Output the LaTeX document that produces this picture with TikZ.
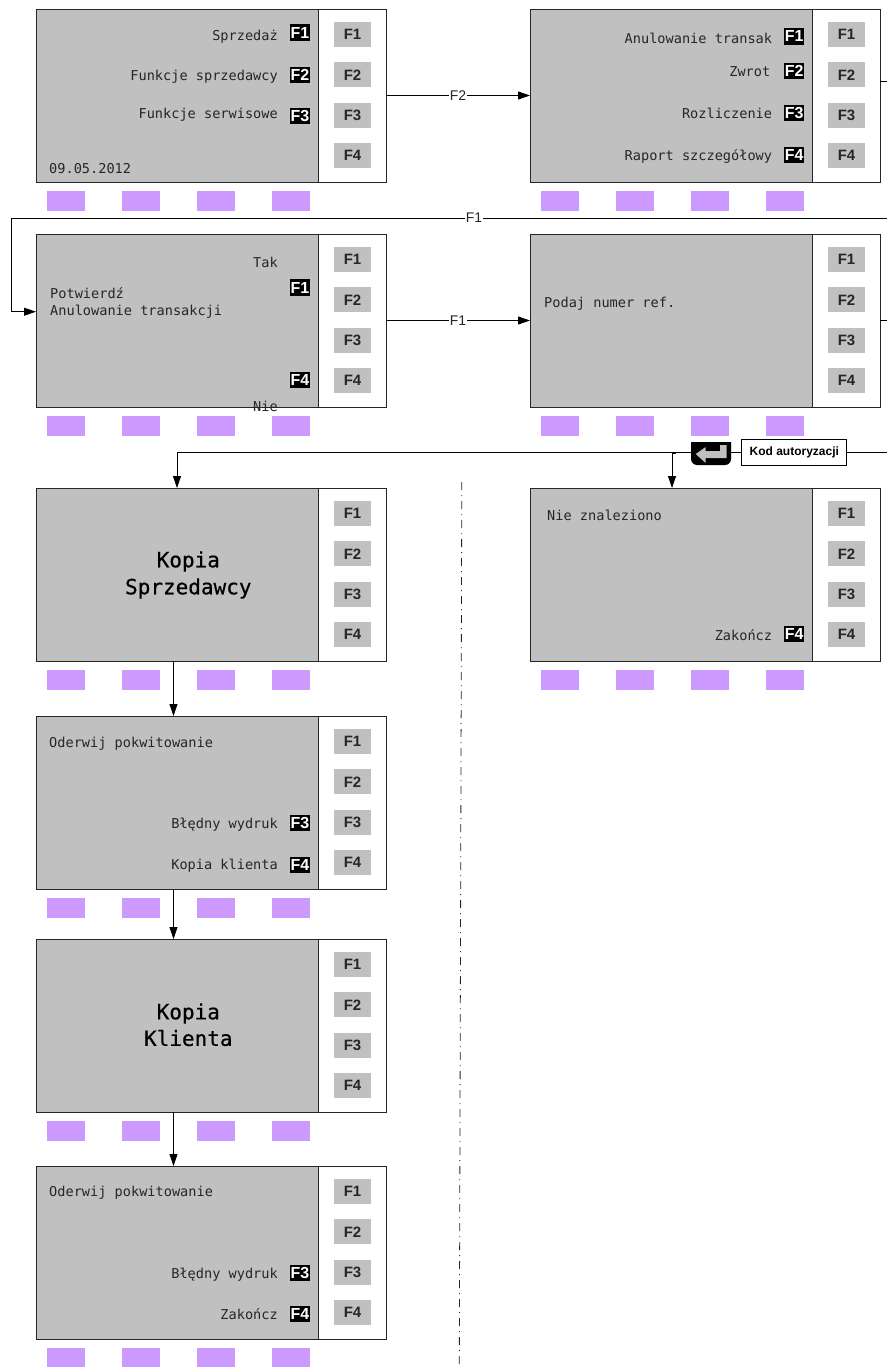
\documentclass[tikz,border=0pt]{standalone}
\usepackage{fontspec}
\setmainfont{Liberation Sans}
\newfontfamily\lcdfont{DejaVu Sans Mono}
\newfontfamily\lcdbig[FakeBold=0.5]{DejaVu Sans Mono}
\usetikzlibrary{arrows.meta}
\definecolor{lcdgray}{HTML}{C0C0C0}
\definecolor{softkey}{HTML}{CC99FF}
\tikzset{
  wire/.style={draw=black,line width=0.8pt},
  arrowwire/.style={wire,-{Triangle[length=12pt,width=8pt]}},
  panel/.style={draw=black!85,line width=0.8pt,fill=white,minimum width=350pt,minimum height=173pt,inner sep=0,outer sep=0},
  lcd/.style={draw=black!85,line width=0.8pt,fill=lcdgray,minimum width=282.5pt,minimum height=173pt,inner sep=0,outer sep=0},
  fbtn/.style={fill=lcdgray,minimum width=37pt,minimum height=25pt,inner sep=0,font=\fontsize{15}{16}\selectfont\bfseries,text=black!85},
  purple/.style={fill=softkey,minimum width=38.5pt,minimum height=19.7pt,inner sep=0},
  keycap/.style={fill=black,minimum width=20pt,minimum height=16.5pt,inner sep=0,text=white,font=\fontsize{16}{17}\selectfont\bfseries},
  lcdtext/.style={inner sep=0,text height=12pt,text depth=1pt,font=\lcdfont\fontsize{13.6}{16}\selectfont,text=black!85},
  bigtext/.style={inner sep=0,align=center,font=\lcdbig\fontsize{21}{26}\selectfont,text=black},
  wirelabel/.style={fill=white,inner sep=1pt,font=\fontsize{14}{16}\selectfont,text=black!85},
}
\newcommand{\screen}[3]{%
  \node[panel] (#1) at (#2+175,#3+86.5) {};
  \node[lcd] (#1lcd) at (#2+141.25,#3+86.5) {};
  \node[fbtn] (#1bf1) at (#2+316.5,#3+25.7) {F1};
  \node[fbtn] (#1bf2) at (#2+316.5,#3+65.9) {F2};
  \node[fbtn] (#1bf3) at (#2+316.5,#3+106.3) {F3};
  \node[fbtn] (#1bf4) at (#2+316.5,#3+146.3) {F4};
  \node[purple] (#1pa) at (#2+30.2,#3+191.9) {};
  \node[purple] (#1pb) at (#2+105.2,#3+191.9) {};
  \node[purple] (#1pc) at (#2+180.2,#3+191.9) {};
  \node[purple] (#1pd) at (#2+255.2,#3+191.9) {};
}
\begin{document}
\begin{tikzpicture}[x=1pt,y=-1pt]
\useasboundingbox (0,0) rectangle (887,1367);
\screen{A}{36}{9}
\screen{B}{530}{9}
\screen{C}{36}{234}
\screen{D}{530}{234}
\screen{E}{36}{488}
\screen{F}{530}{488}
\screen{G}{36}{716}
\screen{H}{36}{939}
\screen{I}{36}{1166}
% screen A
\node[lcdtext,anchor=east] (a1) at (278,35) {Sprzedaż};
\node[lcdtext,anchor=east] (a2) at (278,75) {Funkcje sprzedawcy};
\node[lcdtext,anchor=east] (a3) at (278,113) {Funkcje serwisowe};
\node[lcdtext,anchor=west] (a4) at (49,168) {09.05.2012};
\node[keycap] (ak1) at (300,32.5) {F1};
\node[keycap] (ak2) at (300,75) {F2};
\node[keycap] (ak3) at (300,115.8) {F3};
% screen B
\node[lcdtext,anchor=east] (b1) at (772.3,37.7) {Anulowanie transak};
\node[lcdtext,anchor=east] (b2) at (770.5,70.7) {Zwrot};
\node[lcdtext,anchor=east] (b3) at (772.3,113.3) {Rozliczenie};
\node[lcdtext,anchor=east] (b4) at (772.3,155) {Raport szczegółowy};
\node[keycap] (bk1) at (794.2,36.3) {F1};
\node[keycap] (bk2) at (794.2,71) {F2};
\node[keycap] (bk3) at (794.2,113) {F3};
\node[keycap] (bk4) at (794.2,155) {F4};
% screen C
\node[lcdtext,anchor=east] (c1) at (278,262.3) {Tak};
\node[lcdtext,anchor=west] (c2) at (50,292.7) {Potwierdź};
\node[lcdtext,anchor=west] (c3) at (50,309.7) {Anulowanie transakcji};
\node[keycap] (ck1) at (300,287.5) {F1};
\node[keycap] (ck4) at (300,380) {F4};
\node[lcdtext,anchor=east] (c4) at (278,405.7) {Nie};
% screen D
\node[lcdtext,anchor=west] (d1) at (544,301.7) {Podaj numer ref.};
% screen E
\node[bigtext] (e1) at (188.3,561.5) {Kopia};
\node[bigtext] (e2) at (188.3,588.5) {Sprzedawcy};
% screen F
\node[lcdtext,anchor=west] (f1) at (547,515) {Nie znaleziono};
\node[lcdtext,anchor=east] (f2) at (772.3,635) {Zakończ};
\node[keycap] (fk4) at (794.2,634) {F4};
% screen G
\node[lcdtext,anchor=west] (g1) at (49,741.7) {Oderwij pokwitowanie};
\node[lcdtext,anchor=east] (g2) at (278,823) {Błędny wydruk};
\node[lcdtext,anchor=east] (g3) at (278,864) {Kopia klienta};
\node[keycap] (gk3) at (300,823) {F3};
\node[keycap] (gk4) at (300,865) {F4};
% screen H
\node[bigtext] (h1) at (188.3,1013.5) {Kopia};
\node[bigtext] (h2) at (188.3,1038) {Klienta};
% screen I
\node[lcdtext,anchor=west] (i1) at (49,1191) {Oderwij pokwitowanie};
\node[lcdtext,anchor=east] (i2) at (278,1273) {Błędny wydruk};
\node[lcdtext,anchor=east] (i3) at (278,1314) {Zakończ};
\node[keycap] (ik3) at (300,1273) {F3};
\node[keycap] (ik4) at (300,1314) {F4};
% free ends of connectors
\coordinate (rB) at (887,81.7);
\coordinate (rD) at (887,320.3);
\coordinate (top1) at (887,218);
\coordinate (left1) at (11,218);
\coordinate (left2) at (11,311.7);
\coordinate (top2) at (887,452);
\coordinate (turnE) at (177,452);
\coordinate (spine) at (173.5,0);
\coordinate (branch) at (672,453.5);
\coordinate (branchtick) at (675.5,453.5);
\coordinate (cutT) at (461.8,482);
\coordinate (cutB) at (459.3,1367);
% connectors
\draw[arrowwire] (A.east) -- node[wirelabel,pos=0.5] (lf2) {F2} (B.west);
\draw[arrowwire] (C.east) -- node[wirelabel,pos=0.5] (lf1) {F1} (D.west);
\draw[wire] (B.east |- rB) -- (rB);
\draw[wire] (D.east |- rD) -- (rD);
\draw[arrowwire] (top1) -- node[wirelabel,pos=0.4715] (lf1b) {F1} (left1) -- (left2) -- (left2 -| C.west);
\draw[arrowwire] (top2) -- (turnE) -- (turnE |- E.north);
\draw[arrowwire] (branchtick) -- (branch) -- (branch |- F.north);
\draw[arrowwire] (E.south -| spine) -- (G.north -| spine);
\draw[arrowwire] (G.south -| spine) -- (H.north -| spine);
\draw[arrowwire] (H.south -| spine) -- (I.north -| spine);
% enter key and code box on the line
\fill[black] (691,442) [rounded corners=6pt] -- (691,465) -- (731,465) [sharp corners] -- (731,442) -- cycle;
\fill[lcdgray] (695.7,454) -- (705.7,447) -- (705.7,451) -- (720,451) -- (720,445) -- (726.7,445) -- (726.7,458) -- (705.7,458) -- (705.7,463) -- cycle;
\node[draw=black,line width=0.8pt,fill=white,minimum width=105pt,minimum height=26pt,inner sep=0,font=\fontsize{12}{14}\selectfont\bfseries] (kod) at (794.3,452) {Kod autoryzacji};
% dash-dot separator
\draw[line width=0.8pt,black!85,dash pattern=on 8pt off 5pt on 1pt off 5pt] (cutT) -- (cutB);
\end{tikzpicture}
\end{document}
